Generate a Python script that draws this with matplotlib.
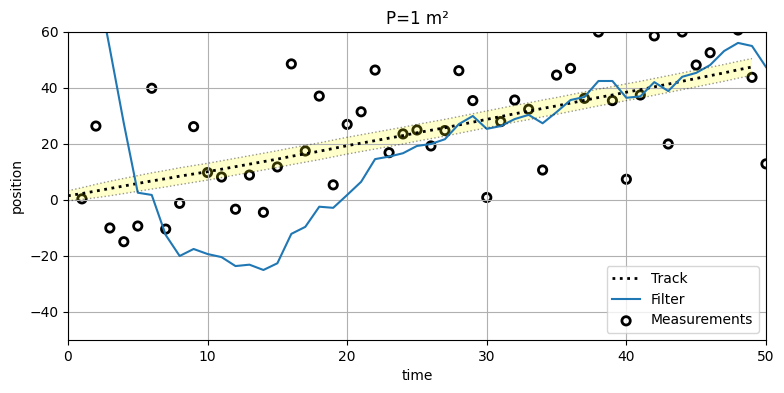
import numpy as np
import matplotlib
matplotlib.use("Agg")
import matplotlib.pyplot as plt

# actual track, sampled at t = 0..49
track = [1.5, 2.3, 3.2, 4.1, 5.0, 5.9, 6.8, 7.6, 8.5, 9.3,
         10.1, 11.0, 11.9, 12.8, 13.7, 14.6, 15.6, 16.5, 17.4, 18.4,
         19.4, 20.3, 21.2, 22.1, 23.0, 24.0, 24.9, 25.8, 26.8, 27.8,
         28.8, 29.8, 30.8, 31.7, 32.7, 33.6, 34.6, 35.6, 36.6, 37.5,
         38.5, 39.4, 40.4, 41.4, 42.4, 43.4, 44.4, 45.4, 46.5, 47.5]

# standard deviation of the filter (sqrt of P[0,0])
std = [1.8, 2.1, 2.4, 2.6, 2.7, 2.8, 2.9, 2.95, 3.0, 3.0,
       3.0, 3.0, 3.0, 3.0, 3.0, 3.0, 3.0, 3.0, 3.0, 3.0,
       3.0, 3.0, 3.0, 3.0, 3.0, 3.0, 3.0, 3.0, 3.0, 3.0,
       3.0, 3.0, 3.0, 3.0, 3.0, 3.0, 3.0, 3.0, 3.0, 3.0,
       3.0, 3.0, 3.0, 3.0, 3.0, 3.0, 3.0, 3.0, 3.0, 3.0]

# measurements and filter output, t = 1..50
zs = [0.4, 26.4, -10.0, -14.9, -9.3, 39.9, -10.4, -1.2, 26.2, 9.8,
      8.2, -3.3, 8.9, -4.4, 11.8, 48.6, 17.5, 37.1, 5.4, 27.0,
      31.5, 46.4, 16.9, 23.6, 25.0, 19.3, 24.8, 46.2, 35.5, 0.9,
      28.0, 35.7, 32.4, 10.7, 44.6, 47.0, 36.3, 60.0, 35.5, 7.4,
      37.5, 58.6, 20.0, 60.0, 48.2, 52.6, 65.0, 60.7, 43.8, 12.9]

filt = [105.0, 80.0, 54.0, 27.4, 2.6, 1.8, -12.5, -20.0, -17.5, -19.3,
        -20.4, -23.6, -23.1, -25.0, -22.6, -12.1, -9.6, -2.4, -2.8, 1.8,
        6.5, 14.6, 15.5, 16.7, 19.3, 20.0, 21.7, 27.1, 30.0, 25.4,
        26.4, 28.9, 30.4, 27.4, 31.4, 35.7, 36.8, 42.5, 42.5, 36.5,
        37.0, 42.1, 38.9, 44.0, 45.4, 48.2, 53.2, 56.1, 55.0, 47.5]

count = len(zs)
track = np.array(track)
std = np.array(std)
std_top = track + std
std_btm = track - std

fig = plt.figure(figsize=(7.84, 3.93), dpi=100)
ax = fig.add_axes([0.0867, 0.1349, 0.8903, 0.7837])

h_track, = ax.plot(track, color='k', lw=2, ls=':', label='Track')
h_filt, = ax.plot(range(1, count + 1), filt, color='C0', label='Filter')
h_meas = ax.scatter(range(1, count + 1), zs, edgecolor='k', facecolor='none',
                    lw=2, label='Measurements')

ax.plot(std_top, linestyle=':', color='k', lw=1, alpha=0.4)
ax.plot(std_btm, linestyle=':', color='k', lw=1, alpha=0.4)
ax.fill_between(range(len(std_top)), std_top, std_btm,
                facecolor='yellow', alpha=0.2, interpolate=True)

ax.legend(handles=[h_track, h_filt, h_meas], loc=4)
ax.set_xlabel('time')
ax.set_ylabel('position')
ax.set_ylim(-50, count + 10)
ax.set_xlim(0, count)
ax.set_title('P=1 m²')
ax.grid()

fig.savefig('out.png')
